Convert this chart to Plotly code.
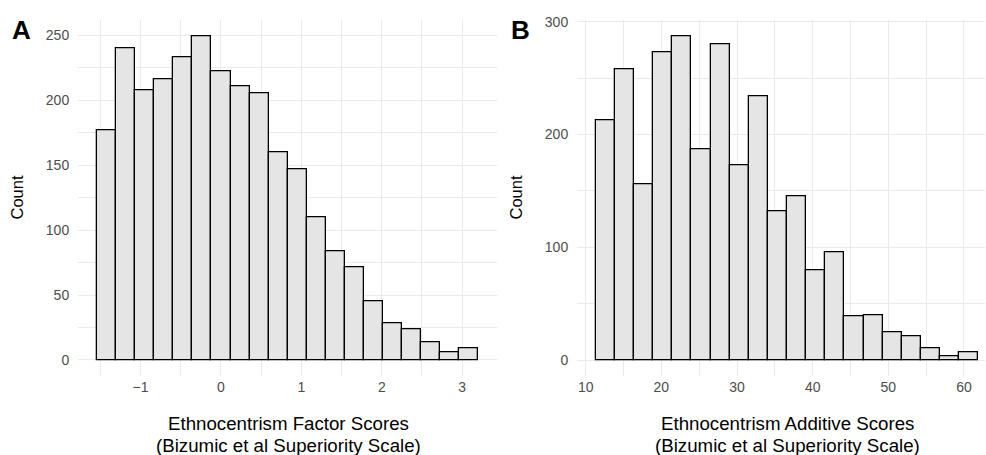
import numpy as np
import plotly.graph_objects as go

# ---- data ----
factor_bin_start = -1.539
factor_bin_width = 0.2368
factor_counts = [177, 240, 208, 216, 233, 249, 222, 211, 205, 160,
                 147, 110, 84, 71, 45, 28, 24, 14, 6, 9]

additive_bin_start = 11.33
additive_bin_width = 2.5285
additive_counts = [213, 258, 156, 273, 287, 187, 280, 173, 234, 132,
                   145, 80, 96, 39, 40, 25, 21, 10, 3, 7]

factor_ticks = [-1, 0, 1, 2, 3]
factor_tick_labels = ["\u22121", "0", "1", "2", "3"]
additive_ticks = [10, 20, 30, 40, 50, 60]
count_ticks_a = [0, 50, 100, 150, 200, 250]
count_ticks_b = [0, 100, 200, 300]

x_title_a = ["Ethnocentrism Factor Scores", "(Bizumic et al Superiority Scale)"]
x_title_b = ["Ethnocentrism Additive Scores", "(Bizumic et al Superiority Scale)"]

# ---- build ----
W, H = 986, 455
fa_centers = factor_bin_start + factor_bin_width * (np.arange(len(factor_counts)) + 0.5)
ad_centers = additive_bin_start + additive_bin_width * (np.arange(len(additive_counts)) + 0.5)

FONT = "Liberation Sans, Arial, sans-serif"
FILL = "#E5E5E5"
GRID = "#EBEBEB"
TICKC = "#4D4D4D"

fig = go.Figure()
fig.add_trace(go.Bar(x=fa_centers, y=factor_counts, width=factor_bin_width,
                     marker=dict(color=FILL, line=dict(color="black", width=1.3)),
                     xaxis="x", yaxis="y", showlegend=False, hoverinfo="x+y"))
fig.add_trace(go.Bar(x=ad_centers, y=additive_counts, width=additive_bin_width,
                     marker=dict(color=FILL, line=dict(color="black", width=1.3)),
                     xaxis="x2", yaxis="y2", showlegend=False, hoverinfo="x+y"))

def px_x(p):
    return p / W

def px_y(p):
    return 1 - p / H

ydom = [px_y(375), px_y(13.5)]

base_axis = dict(showline=False, zeroline=False, gridcolor=GRID, gridwidth=1,
                 tickfont=dict(family=FONT, size=14, color=TICKC),
                 minor=dict(showgrid=True, gridcolor=GRID, gridwidth=0.7))
x_axis = dict(ticks="", ticklabelstandoff=1, **base_axis)
y_axis = dict(ticks="outside", ticklen=5, tickcolor="rgba(0,0,0,0)", **base_axis)

fig.update_layout(
    width=W, height=H,
    margin=dict(l=0, r=0, t=0, b=0),
    paper_bgcolor="white", plot_bgcolor="white",
    bargap=0,
    font=dict(family=FONT, color="black"),
    xaxis=dict(domain=[px_x(78), px_x(497)], range=[-1.778, 3.433],
               tickvals=factor_ticks, ticktext=factor_tick_labels, anchor="y",
               minor_tickvals=[-1.5, -0.5, 0.5, 1.5, 2.5], **x_axis),
    yaxis=dict(domain=ydom, range=[-12.5, 261.5], tickvals=count_ticks_a, anchor="x",
               minor_tickvals=[25, 75, 125, 175, 225], **y_axis),
    xaxis2=dict(domain=[px_x(577), px_x(985)], range=[8.85, 62.78],
                tickvals=additive_ticks, anchor="y2",
                minor_tickvals=[15, 25, 35, 45, 55], **x_axis),
    yaxis2=dict(domain=ydom, range=[-14.35, 301.35], tickvals=count_ticks_b, anchor="x2",
                minor_tickvals=[50, 150, 250], **y_axis),
)

annos = [
    dict(text="<b>A</b>", x=px_x(21.5), y=px_y(23), font=dict(size=26)),
    dict(text="<b>B</b>", x=px_x(520.5), y=px_y(23), font=dict(size=26)),
    dict(text="Count", x=px_x(17.5), y=px_y(194), textangle=-90, font=dict(size=16.5)),
    dict(text="Count", x=px_x(516.5), y=px_y(194), textangle=-90, font=dict(size=16.5)),
    dict(text=x_title_a[0], x=px_x(288), y=px_y(423.5), font=dict(size=18.7)),
    dict(text=x_title_a[1], x=px_x(288), y=px_y(445), font=dict(size=18.7)),
    dict(text=x_title_b[0], x=px_x(787), y=px_y(423.5), font=dict(size=18.7)),
    dict(text=x_title_b[1], x=px_x(787), y=px_y(445), font=dict(size=18.7)),
]
for a in annos:
    a.update(xref="paper", yref="paper", showarrow=False,
             xanchor="center", yanchor="middle")
    a["font"] = dict(family=FONT, color="black", **a["font"])
fig.update_layout(annotations=annos)

fig.write_html("out.html")
